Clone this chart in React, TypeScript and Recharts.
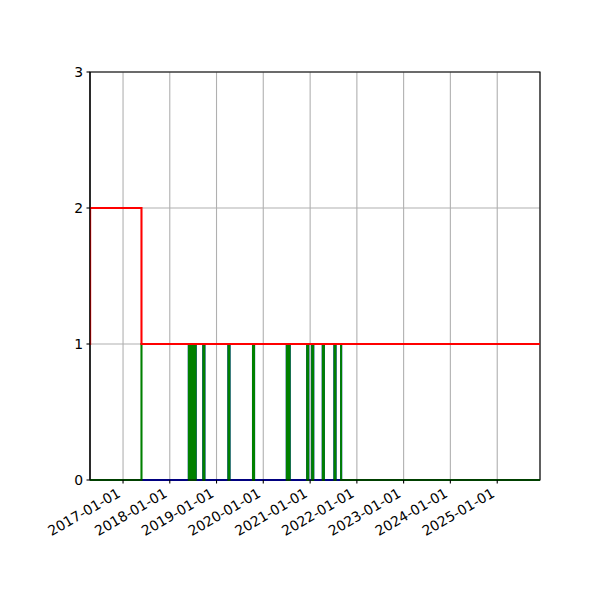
import { CartesianGrid, Line, LineChart, ReferenceArea, XAxis, YAxis } from "recharts";

const START = "2016-04-18";
const END = "2025-12-01";

// every date where one of the step series changes
const changeDates = [
  START, "2016-04-19", "2017-05-25",
  "2018-05-30", "2018-06-05", "2018-06-15", "2018-06-21",
  "2018-06-30", "2018-07-06", "2018-07-16", "2018-07-22",
  "2018-09-20", "2018-09-28",
  "2019-04-04", "2019-04-12",
  "2019-10-13", "2019-10-21",
  "2020-07-03", "2020-07-09", "2020-07-19", "2020-07-25",
  "2020-12-09", "2020-12-17",
  "2021-01-17", "2021-01-25",
  "2021-04-10", "2021-04-18",
  "2021-07-10", "2021-07-18",
  "2021-08-31", END,
];
const blueCounts = [0, 0, 0, 1, 0, 1, 0, 1, 0, 1, 0, 1, 0, 1, 0, 1, 0, 1, 0, 1, 0, 1, 0, 1, 0, 1, 0, 1, 0, 1, 1];
const greenCounts = [0, 0, 1, 0, 1, 0, 1, 0, 1, 0, 1, 0, 1, 0, 1, 0, 1, 0, 1, 0, 1, 0, 1, 0, 1, 0, 1, 0, 1, 0, 0];
const redCounts = [1, 2, 1, 1, 1, 1, 1, 1, 1, 1, 1, 1, 1, 1, 1, 1, 1, 1, 1, 1, 1, 1, 1, 1, 1, 1, 1, 1, 1, 1, 1];

const yearTicks = [
  "2017-01-01", "2018-01-01", "2019-01-01", "2020-01-01", "2021-01-01",
  "2022-01-01", "2023-01-01", "2024-01-01", "2025-01-01",
];
const countTicks = [0, 1, 2, 3];

const FONT = "DejaVu Sans";

const ms = (iso: string) => Date.parse(`${iso}T00:00:00Z`);

const rows = changeDates.map((d, i) => ({
  t: ms(d),
  blue: blueCounts[i],
  green: greenCounts[i],
  red: redCounts[i],
}));

const tickLabels = new Map(yearTicks.map((d) => [ms(d), d]));

// rotated date label, right end hanging under the tick like autofmt_xdate
function DateTick({ x, y, payload }: any) {
  return (
    <text
      transform={`translate(${x - 1.6},${y + 12.5}) rotate(-30)`}
      textAnchor="end"
      fontSize={13.9}
      fontFamily={FONT}
      fill="#000"
    >
      {tickLabels.get(payload.value)}
    </text>
  );
}

export default function App() {
  return (
    <div style={{ position: "absolute", left: 0, top: 0, width: 600, height: 600, background: "#fff" }}>
      <LineChart
        width={600}
        height={600}
        data={rows}
        margin={{ top: 72, right: 60, bottom: 0, left: 0 }}
        style={{ fontFamily: FONT }}
      >
        <CartesianGrid stroke="#b0b0b0" strokeWidth={1.1} fill="none" />
        <XAxis
          dataKey="t"
          type="number"
          domain={[ms(START), ms(END)]}
          ticks={yearTicks.map(ms)}
          allowDataOverflow
          height={120}
          tickSize={3.5}
          tickMargin={0}
          tick={<DateTick />}
          axisLine={{ stroke: "#000", strokeWidth: 1.1 }}
          tickLine={{ stroke: "#000", strokeWidth: 1.1 }}
          interval={0}
        />
        <YAxis
          type="number"
          domain={[0, 3]}
          ticks={countTicks}
          width={90}
          tickSize={3.5}
          tickMargin={3.5}
          tick={{ fontSize: 13.9, fill: "#000", fontFamily: FONT }}
          axisLine={{ stroke: "#000", strokeWidth: 1.1 }}
          tickLine={{ stroke: "#000", strokeWidth: 1.1 }}
          interval={0}
        />
        <Line
          type="stepAfter"
          dataKey="blue"
          stroke="#0000ff"
          strokeWidth={2.08}
          dot={false}
          activeDot={false}
          isAnimationActive={false}
        />
        <Line
          type="stepAfter"
          dataKey="green"
          stroke="#008000"
          strokeWidth={2.08}
          dot={false}
          activeDot={false}
          isAnimationActive={false}
        />
        <Line
          type="stepAfter"
          dataKey="red"
          stroke="#ff0000"
          strokeWidth={2.08}
          dot={false}
          activeDot={false}
          isAnimationActive={false}
        />
        <ReferenceArea
          x1={ms(START)}
          x2={ms(END)}
          y1={0}
          y2={3}
          fill="none"
          stroke="#000"
          strokeWidth={1.1}
          ifOverflow="visible"
        />
      </LineChart>
    </div>
  );
}
